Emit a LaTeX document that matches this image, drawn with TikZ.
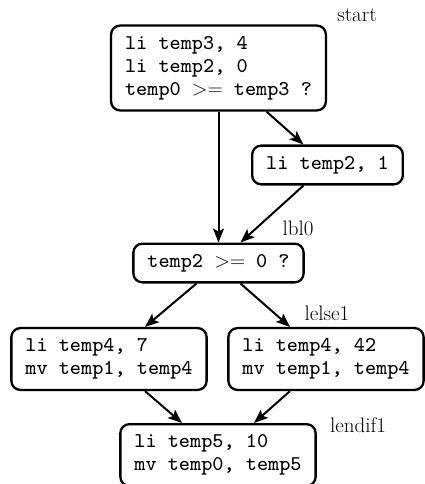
\documentclass[tikz,border=0pt]{standalone}
\usepackage{fontspec}
\newfontfamily\codefont{lmmono8-regular.otf}
\usetikzlibrary{arrows.meta}
\begin{document}
\begin{tikzpicture}[x=1pt,y=-1pt,
  blk/.style={draw,line width=2.3pt,rounded corners=9pt,align=left,
    inner xsep=14pt,inner ysep=10.5pt,
    font=\fontsize{21}{23}\selectfont\codefont},
  lbl/.style={font=\fontsize{21}{23}\selectfont\rmfamily,inner sep=0pt},
  arr/.style={line width=2pt,-{Stealth[length=14pt,width=11pt,inset=3pt]}}]
\useasboundingbox (0,0) rectangle (425,484);
\node[blk] (b1) at (218.5,68) {li temp3, 4\\li temp2, 0\\temp0 $>=$ temp3 ?};
\node[blk] (b2) at (327.5,165) {li temp2, 1};
\node[blk] (b3) at (218.5,263) {temp2 $>=$ 0 ?};
\node[blk] (b4) at (109,359) {li temp4, 7\\mv temp1, temp4};
\node[blk] (b5) at (326,359) {li temp4, 42\\mv temp1, temp4};
\node[blk] (b6) at (218,455) {li temp5, 10\\mv temp0, temp5};
\node[lbl] (l1) at (357,15) {start};
\node[lbl] (l2) at (298,228) {lbl0};
\node[lbl] (l3) at (327,313) {lelse1};
\node[lbl] (l4) at (358,425) {lendif1};
\draw[arr] (b1.south) -- (b3.north);
\draw[arr] ([xshift=48pt]b1.south) -- ([xshift=-24pt]b2.north);
\draw[arr] ([xshift=-24pt]b2.south) -- ([xshift=22pt]b3.north);
\draw[arr] ([xshift=-22pt]b3.south) -- ([xshift=36pt]b4.north);
\draw[arr] ([xshift=22pt]b3.south) -- ([xshift=-36pt]b5.north);
\draw[arr] ([xshift=36pt]b4.south) -- ([xshift=-36pt]b6.north);
\draw[arr] ([xshift=-36pt]b5.south) -- ([xshift=36pt]b6.north);
\end{tikzpicture}
\end{document}
